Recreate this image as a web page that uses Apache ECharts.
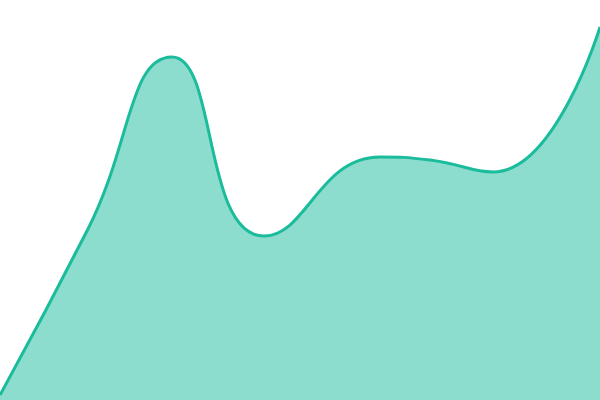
<!DOCTYPE html>
<html>
<head>
<meta charset="utf-8">
<style>
html, body { margin: 0; padding: 0; background: #fff; }
#chart { width: 600px; height: 400px; }
</style>
<script src="https://cdn.jsdelivr.net/npm/echarts@6/dist/echarts.min.js"></script>
</head>
<body>
<div id="chart"></div>
<script>
// x positions (irregular sampling) and values
var xs = [0, 88, 172, 264, 380, 430, 493, 600];
var values = [5, 171, 343, 164, 243, 240, 228, 373];

var points = [];
for (var i = 0; i < xs.length; i++) {
    points.push([xs[i], values[i]]);
}

var option = {
    animation: false,
    grid: { left: 0, right: 0, top: 0, bottom: 0 },
    xAxis: {
        type: 'value',
        min: 0,
        max: 600,
        show: false
    },
    yAxis: {
        type: 'value',
        min: 0,
        max: 400,
        show: false
    },
    series: [
        {
            type: 'line',
            data: points,
            smooth: true,
            symbol: 'none',
            lineStyle: { color: '#1abc9c', width: 3 },
            areaStyle: { color: '#1abc9c', opacity: 0.5 }
        }
    ]
};

var myChart = echarts.init(document.getElementById('chart'));
myChart.setOption(option);
</script>
</body>
</html>
